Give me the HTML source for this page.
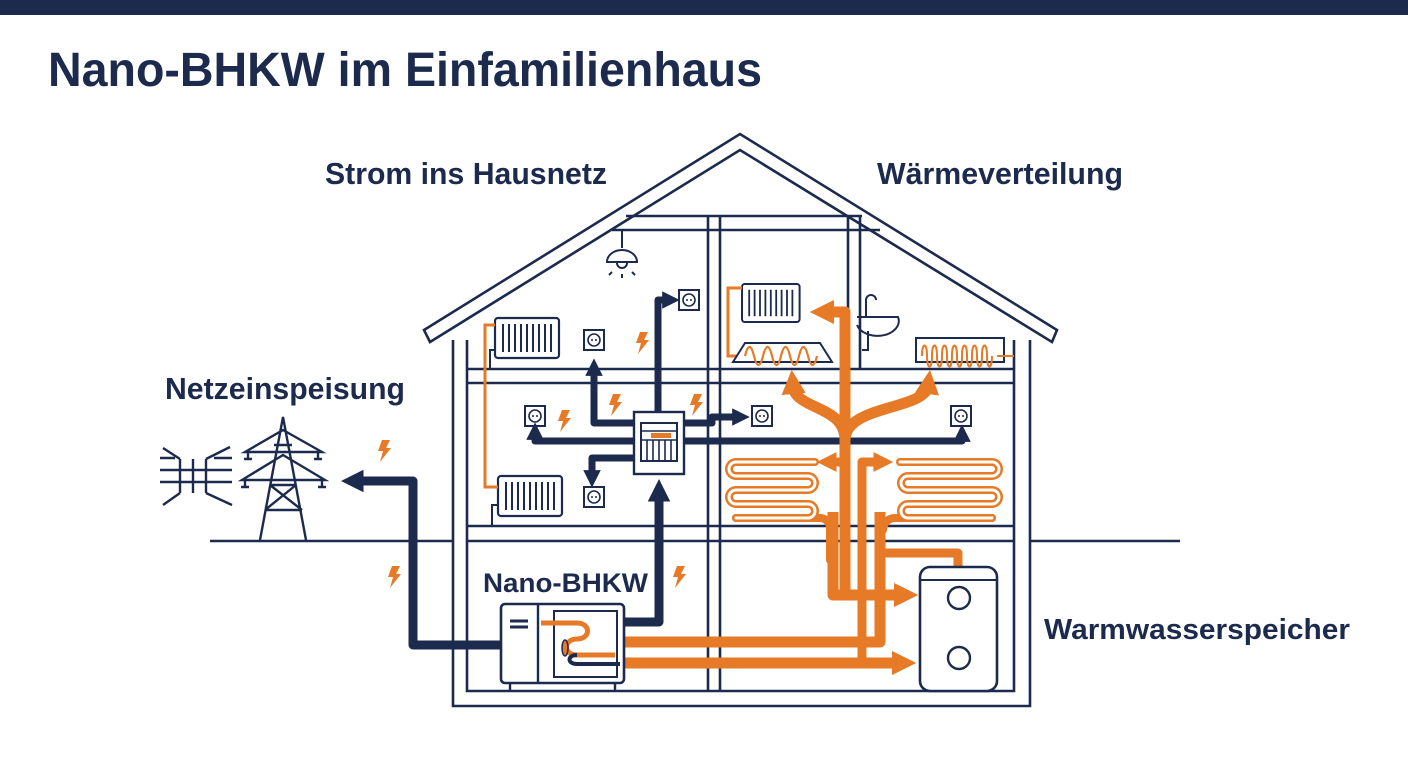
<!DOCTYPE html>
<html><head><meta charset="utf-8"><style>
html,body{margin:0;padding:0;background:#fff;width:1408px;height:768px;overflow:hidden}
svg{display:block}
text{font-family:"Liberation Sans Narrow","Liberation Sans",sans-serif;font-weight:bold;fill:#1c2a4e}
</style></head><body>
<svg width="1408" height="768" viewBox="0 0 1408 768" xmlns="http://www.w3.org/2000/svg">
<defs>
<marker id="an" viewBox="0 0 3 3" markerWidth="2.5" markerHeight="2.5" refX="1" refY="1.5" orient="auto" markerUnits="strokeWidth"><path d="M0,0 L3,1.5 L0,3 z" fill="#1c2a4e"/></marker>
<marker id="ao" viewBox="0 0 3 3" markerWidth="2.2" markerHeight="2.2" refX="1" refY="1.5" orient="auto" markerUnits="strokeWidth"><path d="M0,0 L3,1.5 L0,3 z" fill="#e67a26"/></marker>
<g id="bolt"><path d="M4,0 L12,0 L8,8 L13,8 L2,22 L5,11 L0,11 z" fill="#e67a26"/></g>
<g id="sock"><rect x="0" y="0" width="20" height="20" fill="#fff" stroke="#1c2a4e" stroke-width="2"/><circle cx="10" cy="10" r="6" fill="none" stroke="#1c2a4e" stroke-width="1.6"/><circle cx="8" cy="10" r="1" fill="#1c2a4e"/><circle cx="12" cy="10" r="1" fill="#1c2a4e"/></g>
<g id="rad"><rect x="0" y="0" width="64" height="40" rx="3" fill="#fff" stroke="#1c2a4e" stroke-width="2.2"/>
<path d="M8,6V34M14,6V34M20,6V34M26,6V34M32,6V34M38,6V34M44,6V34M50,6V34M56,6V34" stroke="#1c2a4e" stroke-width="2"/></g>
</defs>
<rect x="0" y="0" width="1408" height="15" fill="#1c2a4e"/>
<text x="48" y="86" font-size="48" textLength="714" lengthAdjust="spacingAndGlyphs">Nano-BHKW im Einfamilienhaus</text>
<text x="325" y="184" font-size="31" textLength="282" lengthAdjust="spacingAndGlyphs">Strom ins Hausnetz</text>
<text x="877" y="184" font-size="31" textLength="246" lengthAdjust="spacingAndGlyphs">Wärmeverteilung</text>
<text x="165" y="399" font-size="31" textLength="240" lengthAdjust="spacingAndGlyphs">Netzeinspeisung</text>
<text x="483" y="592" font-size="27" textLength="165" lengthAdjust="spacingAndGlyphs">Nano-BHKW</text>
<text x="1044" y="639" font-size="29" textLength="306" lengthAdjust="spacingAndGlyphs">Warmwasserspeicher</text>

<g fill="none" stroke="#1c2a4e" stroke-width="2.6">
<path d="M210,541H453M1030,541H1180"/>
<path d="M424,330 L740,134 L1057,330 L1052,342 L740,150 L430,342 z" fill="#fff"/>
<path d="M453,340V706H1030V340M467,340V691H1014V340"/>
<path d="M467,369H1014M467,383H1014M467,526H1014M467,541H1014"/>
<path d="M708,216V691M720,216V691M848,216V369M860,216V369"/>
<path d="M626,216H862M612,230H880"/>
</g>

<g stroke="#1c2a4e" stroke-width="2" fill="none">
<path d="M622,230V248M607,262a15,12 0 0 1 30,0z"/>
<path d="M617,263a5,5 0 0 0 10,0M612,272l-3,3M622,274v4M632,272l3,3"/>
</g>

<use href="#rad" x="495" y="318"/>
<use href="#rad" x="498" y="476"/>
<path d="M495,325H485V487H498" fill="none" stroke="#e67a26" stroke-width="3"/>
<path d="M495,350H490V369M498,505H492V526" fill="none" stroke="#1c2a4e" stroke-width="2"/>

<use href="#sock" x="584" y="330"/>
<use href="#sock" x="679" y="290"/>
<use href="#sock" x="525" y="406"/>
<use href="#sock" x="584" y="487"/>
<use href="#sock" x="752" y="406"/>
<use href="#sock" x="951" y="406"/>

<use href="#bolt" x="636" y="332"/>
<use href="#bolt" x="558" y="410"/>
<use href="#bolt" x="609" y="394"/>
<use href="#bolt" x="690" y="394"/>
<use href="#bolt" x="378" y="440"/>
<use href="#bolt" x="388" y="566"/>
<use href="#bolt" x="673" y="566"/>

<g fill="none" stroke="#1c2a4e" stroke-width="9" stroke-linejoin="round">
<path d="M500,645H413V481H356" marker-end="url(#an)"/>
<path d="M624,622H659V494" marker-end="url(#an)"/>
<path d="M658,412V300H668" marker-end="url(#an)" stroke-width="7"/>
<path d="M634,423H594V370" marker-end="url(#an)" stroke-width="7"/>
<path d="M634,441H535V434" marker-end="url(#an)" stroke-width="7"/>
<path d="M634,458H592V476" marker-end="url(#an)" stroke-width="7"/>
<path d="M684,423H712V417H738" marker-end="url(#an)" stroke-width="7"/>
<path d="M684,441H962V436" marker-end="url(#an)" stroke-width="7"/>
</g>
<rect x="634" y="412" width="50" height="62" fill="#fff" stroke="#1c2a4e" stroke-width="2.4"/>
<rect x="641" y="423" width="36" height="38" fill="#fff" stroke="#1c2a4e" stroke-width="2"/>
<path d="M641,431H677M641,440H677M647,440V461M653,440V461M659,440V461M665,440V461M671,440V461" stroke="#1c2a4e" stroke-width="1.6"/>
<rect x="651" y="433" width="20" height="5" fill="#e67a26"/>

<g fill="none" stroke="#1c2a4e" stroke-width="2.4">
<path d="M260,540L283,417L306,540M270,485H296M265,510H302M270,485L302,510M296,485L265,510M274,445H292"/>
<path d="M245,452H322L283,430zM242,480H325L283,455z"/>
<path d="M248,452v7M318,452v7M245,480v7M322,480v7M244,459h8M314,459h8M241,487h8M318,487h8"/>
<path d="M160,470H232M160,482H232M180,459V493M193,459V493M206,459V493M180,459L163,448M206,459L230,447M180,493L163,505M206,493L232,505M160,458H175M214,458H232"/>
</g>

<g fill="none" stroke="#e67a26" stroke-width="11" stroke-linejoin="round">
<path d="M624,642H880V512"/>
<path d="M624,663H900" marker-end="url(#ao)"/>
<path d="M833,512V595H902" marker-end="url(#ao)"/>
<path d="M845,595V312H826" marker-end="url(#ao)"/>
<path d="M845,440C845,405 795,410 793,386" marker-end="url(#ao)"/>
<path d="M845,440C845,405 925,410 928,386" marker-end="url(#ao)"/>
<path d="M845,462H830" marker-end="url(#ao)" stroke-width="9"/>
<path d="M862,663V462H880" marker-end="url(#ao)" stroke-width="9"/>
<path d="M880,572V553H958V567" stroke-width="9"/>
</g>
<g fill="none" stroke="#e67a26" stroke-width="8" stroke-linecap="round">
<path d="M815,462H736a7,7 0 0 0 0,14H808a7,7 0 0 1 0,14H736a7,7 0 0 0 0,14H808a7,7 0 0 1 0,14H736"/>
<path d="M900,462H992a7,7 0 0 1 0,14H908a7,7 0 0 0 0,14H992a7,7 0 0 1 0,14H908a7,7 0 0 0 0,14H992"/>
<path d="M736,518H820a10,10 0 0 1 10,10V560M992,518H895a12,12 0 0 0 -12,12"/>
</g>
<g fill="none" stroke="#fff" stroke-width="3" stroke-linecap="round">
<path d="M815,462H736a7,7 0 0 0 0,14H808a7,7 0 0 1 0,14H736a7,7 0 0 0 0,14H808a7,7 0 0 1 0,14H736"/>
<path d="M900,462H992a7,7 0 0 1 0,14H908a7,7 0 0 0 0,14H992a7,7 0 0 1 0,14H908a7,7 0 0 0 0,14H992"/>
</g>

<use href="#rad" x="742" y="284" transform="translate(742,284) scale(0.9,0.95) translate(-742,-284)"/>
<path d="M742,288H728V356H752" fill="none" stroke="#e67a26" stroke-width="3"/>
<path d="M745,343H820L832,362H733z" fill="#fff" stroke="#1c2a4e" stroke-width="2"/>
<path d="M745,356c3,-12 6,-12 9,0s6,12 9,0s6,-12 9,0s6,12 9,0s6,-12 9,0s6,12 9,0s6,-12 9,0s6,12 9,0" fill="none" stroke="#e67a26" stroke-width="2.2"/>
<rect x="916" y="338" width="88" height="24" fill="#fff" stroke="#1c2a4e" stroke-width="2"/>
<path d="M922,356c0,-14 5,-14 5,0s5,14 5,0s5,-14 5,0s5,14 5,0s5,-14 5,0s5,14 5,0s5,-14 5,0s5,14 5,0s5,-14 5,0s5,14 5,0s5,-14 5,0s5,14 5,0s5,-14 5,0s5,14 5,0 M997,356H1014" fill="none" stroke="#e67a26" stroke-width="2"/>
<g fill="none" stroke="#1c2a4e" stroke-width="2">
<path d="M857,317H898a20,14 0 0 1 -41,8"/>
<path d="M866,317V300a5,5 0 0 1 10,0"/>
<path d="M868,331V350H862"/>
</g>

<rect x="920" y="567" width="77" height="124" rx="10" fill="#fff" stroke="#1c2a4e" stroke-width="2.6"/>
<path d="M920,580H997" stroke="#1c2a4e" stroke-width="2"/>
<circle cx="959" cy="598" r="11" fill="none" stroke="#1c2a4e" stroke-width="2.4"/>
<circle cx="959" cy="658" r="11" fill="none" stroke="#1c2a4e" stroke-width="2.4"/>

<rect x="501" y="604" width="123" height="79" rx="4" fill="#fff" stroke="#1c2a4e" stroke-width="2.6"/>
<path d="M538,604V683M510,683V690M615,683V690" stroke="#1c2a4e" stroke-width="2.4" fill="none"/>
<rect x="554" y="611" width="63" height="66" fill="#fff" stroke="#1c2a4e" stroke-width="2"/>
<path d="M510,621H528M510,627H528" stroke="#1c2a4e" stroke-width="3"/>
<path d="M541,623H577c14,0 14,16 0,16c-14,0 -14,16 0,16H615" fill="none" stroke="#e67a26" stroke-width="5"/>
<path d="M577,655c-10,0 -10,9 0,9H620" fill="none" stroke="#1c2a4e" stroke-width="4"/>
<ellipse cx="565" cy="648" rx="3" ry="8" fill="#e67a26" stroke="#1c2a4e" stroke-width="1.5"/>
</svg>
</body></html>
